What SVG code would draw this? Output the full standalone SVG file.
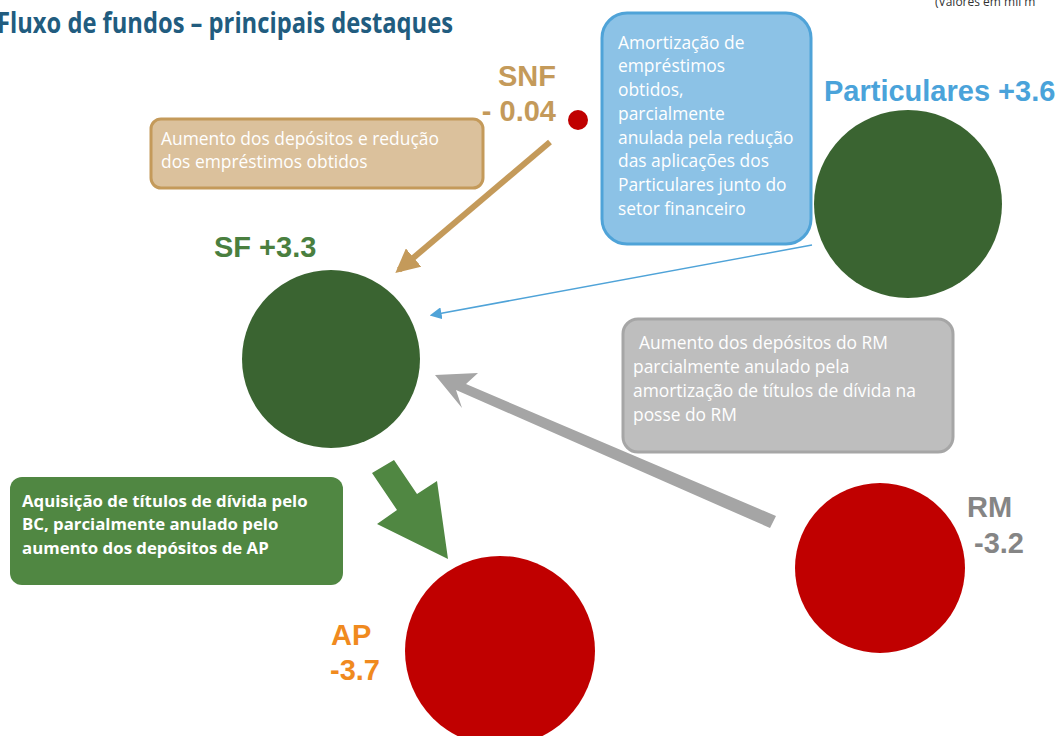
<svg xmlns="http://www.w3.org/2000/svg" width="1061" height="736" viewBox="0 0 1061 736">
<style>
.lbl{font-family:"Liberation Sans",Arial,sans-serif;font-weight:bold;font-size:29px}
.box{font-family:"Open Sans","DejaVu Sans",sans-serif;font-size:17.4px;fill:#FFFFFF}
.boxb{font-family:"Open Sans","DejaVu Sans",sans-serif;font-size:16.8px;font-weight:bold;fill:#FFFFFF}
</style>
<defs>
<marker id="mBrown" viewBox="0 0 10 10" refX="8" refY="5" markerWidth="4" markerHeight="4" orient="auto" markerUnits="strokeWidth"><path d="M0,0 L10,5 L0,10 z" fill="#C49A5A"/></marker>
<marker id="mBlue" viewBox="0 0 10 10" refX="8" refY="5" markerWidth="8" markerHeight="8" orient="auto" markerUnits="strokeWidth"><path d="M0,0 L10,5 L0,10 z" fill="#4FA3D8"/></marker>
</defs>
<rect width="1061" height="736" fill="#FFFFFF"/>
<text x="-3" y="33" font-family="'Open Sans','DejaVu Sans',sans-serif" font-weight="bold" font-size="28" fill="#215C7F" textLength="456" lengthAdjust="spacingAndGlyphs">Fluxo de fundos – principais destaques</text>
<text x="935" y="6" font-family="'Open Sans','DejaVu Sans',sans-serif" font-size="12" fill="#333333">(Valores em mil m</text>

<g id="connectors">
<line x1="550" y1="142" x2="399" y2="270" stroke="#C49A5A" stroke-width="6" marker-end="url(#mBrown)"/>
<line x1="812" y1="245" x2="432" y2="315" stroke="#4FA3D8" stroke-width="1.5" marker-end="url(#mBlue)"/>
<polygon points="776,516 770,528 456,390 462,408 435,375 478,373 466,384" fill="#A5A5A5"/>
<polygon points="372,473 394,460 417,494 437,481 448,559 377,524 397,510" fill="#508742"/>
</g>

<g id="node-snf">
<circle cx="578" cy="120" r="10" fill="#C00000"/>
<text class="lbl" x="556" y="86" text-anchor="end" fill="#C49A5A">SNF</text>
<text class="lbl" x="556" y="121" text-anchor="end" fill="#C49A5A">- 0.04</text>
</g>

<g id="note-snf">
<rect x="151" y="119" width="332" height="69" rx="10" fill="#DBC19C" stroke="#C49A5A" stroke-width="3"/>
<text class="box" x="161" y="145">Aumento dos depósitos e redução</text>
<text class="box" x="161" y="168">dos empréstimos obtidos</text>
</g>

<g id="node-sf">
<text class="lbl" x="214" y="257" fill="#4A7F3F">SF +3.3</text>
<circle cx="331" cy="359" r="89" fill="#3A6431"/>
</g>

<g id="note-particulares">
<rect x="602" y="13" width="209" height="231" rx="25" fill="#8CC2E6" stroke="#4FA3D8" stroke-width="3"/>
<text class="box" x="618" y="49">Amortização de</text>
<text class="box" x="618" y="72">empréstimos</text>
<text class="box" x="618" y="96">obtidos,</text>
<text class="box" x="618" y="120">parcialmente</text>
<text class="box" x="618" y="144">anulada pela redução</text>
<text class="box" x="618" y="167">das aplicações dos</text>
<text class="box" x="618" y="191">Particulares junto do</text>
<text class="box" x="618" y="215">setor financeiro</text>
</g>

<g id="node-particulares">
<text class="lbl" x="824" y="101" fill="#4AA3DA">Particulares +3.6</text>
<circle cx="908" cy="204" r="94" fill="#3A6431"/>
</g>

<g id="note-rm">
<rect x="623" y="319" width="330" height="133" rx="15" fill="#BEBEBE" stroke="#A6A6A6" stroke-width="3"/>
<text class="box" x="639" y="349">Aumento dos depósitos do RM</text>
<text class="box" x="633" y="373">parcialmente anulado pela</text>
<text class="box" x="633" y="397">amortização de títulos de dívida na</text>
<text class="box" x="633" y="421">posse do RM</text>
</g>

<g id="node-rm">
<circle cx="880" cy="568" r="85" fill="#C00000"/>
<text class="lbl" x="967" y="517" fill="#858585">RM</text>
<text class="lbl" x="974" y="553" fill="#858585">-3.2</text>
</g>

<g id="note-ap">
<rect x="10" y="477" width="333" height="108" rx="12" fill="#508742"/>
<text class="boxb" x="22" y="507">Aquisição de títulos de dívida pelo</text>
<text class="boxb" x="22" y="530">BC, parcialmente anulado pelo</text>
<text class="boxb" x="22" y="554">aumento dos depósitos de AP</text>
</g>

<g id="node-ap">
<circle cx="500" cy="651" r="95" fill="#C00000"/>
<text class="lbl" x="331" y="645" fill="#F08A1E">AP</text>
<text class="lbl" x="330" y="680" fill="#F08A1E">-3.7</text>
</g>
</svg>
